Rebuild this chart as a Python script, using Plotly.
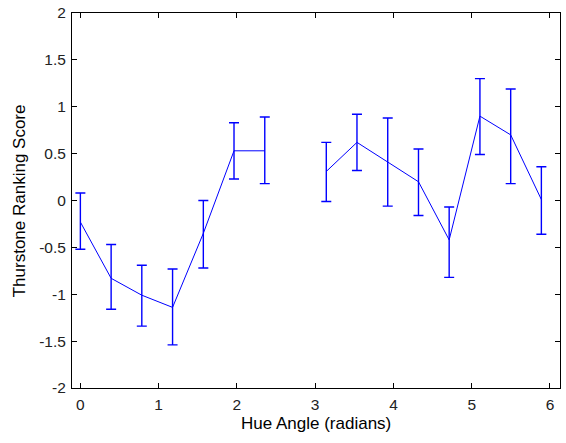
import plotly.graph_objects as go

hue = [0.0, 0.393, 0.785, 1.178, 1.571, 1.963, 2.356, 2.749,
       3.142, 3.534, 3.927, 4.320, 4.712, 5.105, 5.498, 5.890]
score = [-0.23, -0.83, -1.01, -1.14, -0.35, 0.53, 0.53, None,
         0.31, 0.62, 0.41, 0.20, -0.42, 0.90, 0.70, 0.01]
err_up = [0.31, 0.36, 0.32, 0.41, 0.35, 0.30, 0.36, None,
          0.31, 0.30, 0.47, 0.35, 0.35, 0.40, 0.49, 0.35]
err_down = [0.29, 0.33, 0.33, 0.40, 0.37, 0.30, 0.35, None,
            0.32, 0.30, 0.47, 0.36, 0.40, 0.41, 0.52, 0.37]
x_ticks = [0, 1, 2, 3, 4, 5, 6]
y_ticks = [-2, -1.5, -1, -0.5, 0, 0.5, 1, 1.5, 2]
y_tick_text = ["-2", "-1.5", "-1", "-0.5", "0", "0.5", "1", "1.5", "2"]
x_title = "Hue Angle (radians)"
y_title = "Thurstone Ranking Score"

fig = go.Figure()
fig.add_trace(go.Scatter(
    x=hue, y=score, mode="lines",
    line=dict(color="#0000ff", width=1),
    connectgaps=False,
    error_y=dict(type="data", symmetric=False, array=err_up, arrayminus=err_down,
                 color="#0000ff", thickness=1.4, width=5),
    showlegend=False,
))

font = "Liberation Sans, Arial, Helvetica, sans-serif"
axis_common = dict(
    showline=True, linecolor="black", linewidth=1, mirror="ticks",
    ticks="inside", ticklen=5, tickcolor="black", tickwidth=1,
    showgrid=False, zeroline=False, automargin=False,
    tickfont=dict(family=font, size=15.5, color="#222"),
)
fig.update_layout(
    width=566, height=443,
    margin=dict(l=72, r=6, t=13, b=55),
    paper_bgcolor="white", plot_bgcolor="white",
    xaxis=dict(range=[-0.107, 6.128], tickvals=x_ticks, ticklabelstandoff=2, **axis_common),
    yaxis=dict(range=[-2, 2], tickvals=y_ticks, ticktext=y_tick_text, ticklabelstandoff=2, **axis_common),
    annotations=[
        dict(text=x_title, xref="paper", yref="paper", x=0.5, y=-0.095,
             xanchor="center", yanchor="middle", showarrow=False,
             font=dict(family=font, size=17, color="black")),
        dict(text=y_title, xref="paper", yref="paper", x=-0.107, y=0.5,
             xanchor="center", yanchor="middle", textangle=-90, showarrow=False,
             font=dict(family=font, size=17, color="black")),
    ],
)
fig.write_html(
    "out.html",
    config={"displayModeBar": False},
    post_script="document.body.style.margin='0';document.body.style.overflow='hidden';",
)
